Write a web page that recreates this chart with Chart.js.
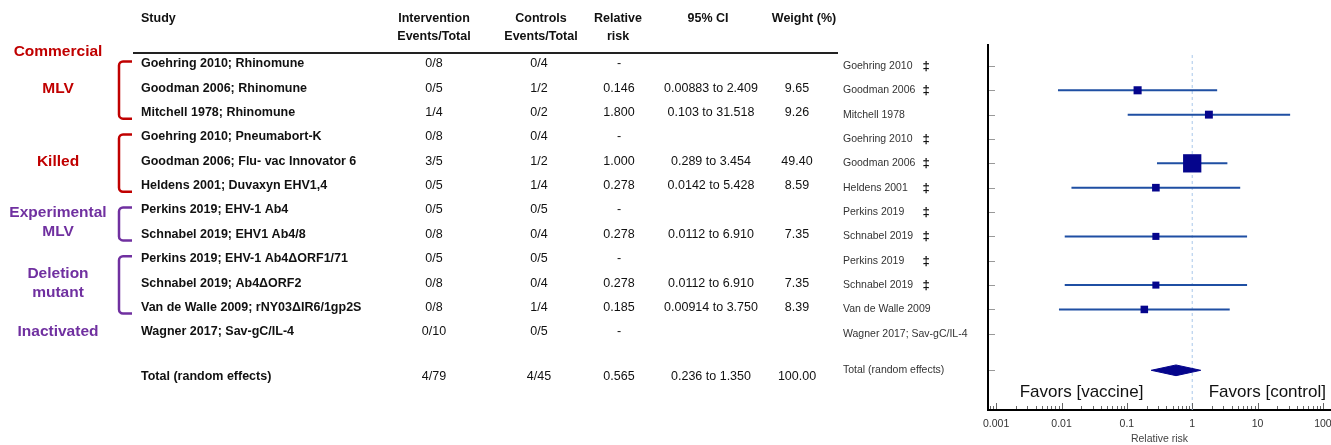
<!DOCTYPE html>
<html>
<head>
<meta charset="utf-8">
<script src="https://cdn.jsdelivr.net/npm/chart.js@4.4.1/dist/chart.umd.min.js"></script>
<style>
  html, body { margin: 0; padding: 0; background: #fff; }
  canvas { display: block; }
</style>
</head>
<body>
<canvas id="forest" width="1331" height="445"></canvas>
<script>
// ---- Study data -------------------------------------------------------
const studyNames = [
  'Goehring 2010; Rhinomune',
  'Goodman 2006; Rhinomune',
  'Mitchell 1978; Rhinomune',
  'Goehring 2010; Pneumabort-K',
  'Goodman 2006; Flu- vac Innovator 6',
  'Heldens 2001; Duvaxyn EHV1,4',
  'Perkins 2019; EHV-1 Ab4',
  'Schnabel 2019; EHV1 Ab4/8',
  'Perkins 2019; EHV-1 Ab4\u0394ORF1/71',
  'Schnabel 2019; Ab4\u0394ORF2',
  'Van de Walle 2009; rNY03\u0394IR6/1gp2S',
  'Wagner 2017; Sav-gC/IL-4'
];
const shortNames = [
  'Goehring 2010', 'Goodman 2006', 'Mitchell 1978', 'Goehring 2010',
  'Goodman 2006', 'Heldens 2001', 'Perkins 2019', 'Schnabel 2019',
  'Perkins 2019', 'Schnabel 2019', 'Van de Walle 2009', 'Wagner 2017; Sav-gC/IL-4'
];
const doubleDagger = [true, true, false, true, true, true, true, true, true, true, false, false];
const interventionEvents = ['0/8', '0/5', '1/4', '0/8', '3/5', '0/5', '0/5', '0/8', '0/5', '0/8', '0/8', '0/10'];
const controlEvents      = ['0/4', '1/2', '0/2', '0/4', '1/2', '1/4', '0/5', '0/4', '0/5', '0/4', '1/4', '0/5'];
const relativeRisk = ['-', '0.146', '1.800', '-', '1.000', '0.278', '-', '0.278', '-', '0.278', '0.185', '-'];
const ciLower      = ['', '0.00883', '0.103', '', '0.289', '0.0142', '', '0.0112', '', '0.0112', '0.00914', ''];
const ciUpper      = ['', '2.409', '31.518', '', '3.454', '5.428', '', '6.910', '', '6.910', '3.750', ''];
const weights      = ['', '9.65', '9.26', '', '49.40', '8.59', '', '7.35', '', '7.35', '8.39', ''];

const pooledLabel = 'Total (random effects)';
const pooledIntervention = '4/79';
const pooledControl = '4/45';
const pooledRR = '0.565';
const pooledLower = '0.236';
const pooledUpper = '1.350';
const pooledWeight = '100.00';

const headerTitles = [
  { lines: ['Study'], x: 141, align: 'left' },
  { lines: ['Intervention', 'Events/Total'], x: 434, align: 'center' },
  { lines: ['Controls', 'Events/Total'], x: 541, align: 'center' },
  { lines: ['Relative', 'risk'], x: 618, align: 'center' },
  { lines: ['95% CI'], x: 708, align: 'center' },
  { lines: ['Weight (%)'], x: 804, align: 'center' }
];

// Vaccine-type groups: label lines, colour, label row, bracketed rows
const groups = [
  { lines: ['Commercial'], color: '#c00000', row: -0.5, span: null },
  { lines: ['MLV'], color: '#c00000', row: 1, span: [0, 2] },
  { lines: ['Killed'], color: '#c00000', row: 4, span: [3, 5] },
  { lines: ['Experimental', 'MLV'], color: '#7030a0', row: 6.5, span: [6, 7] },
  { lines: ['Deletion', 'mutant'], color: '#7030a0', row: 9, span: [8, 10] },
  { lines: ['Inactivated'], color: '#7030a0', row: 11, span: null }
];

const xTickValues = [0.001, 0.01, 0.1, 1, 10, 100];
const xTickLabels = ['0.001', '0.01', '0.1', '1', '10', '100'];

const pooledRow = 12.5;
const FONT = "'Liberation Sans', Arial, Helvetica, sans-serif";

// ---- Datasets built from the arrays above -----------------------------
const squarePoints = [];
const squareRadii = [];
const ciPoints = [];
relativeRisk.forEach((rr, i) => {
  if (rr === '-') return;
  squarePoints.push({ x: Number(rr), y: i });
  // box area proportional to weight; 'rect' side = radius * sqrt(2)
  const side = 2.6 * Math.sqrt(Number(weights[i]));
  squareRadii.push(side / Math.SQRT2);
  ciPoints.push({ x: Number(ciLower[i]), y: i });
  ciPoints.push({ x: Number(ciUpper[i]), y: i });
  ciPoints.push({ x: Number(ciUpper[i]), y: null });
});

const diamondHalf = 0.22;
const diamondPoints = [
  { x: Number(pooledLower), y: pooledRow },
  { x: Number(pooledRR), y: pooledRow - diamondHalf },
  { x: Number(pooledUpper), y: pooledRow },
  { x: Number(pooledRR), y: pooledRow + diamondHalf },
  { x: Number(pooledLower), y: pooledRow }
];

// ---- Table, labels, brackets and log minor ticks ----------------------
const forestDecor = {
  id: 'forestDecor',
  afterDraw(chart) {
    const ctx = chart.ctx;
    const xs = chart.scales.x;
    const ys = chart.scales.y;
    const area = chart.chartArea;
    const tableY = (v) => ys.getPixelForValue(v) - 2;

    ctx.save();
    ctx.textBaseline = 'middle';

    // header
    ctx.fillStyle = '#111';
    ctx.font = 'bold 12.5px ' + FONT;
    headerTitles.forEach(h => {
      ctx.textAlign = h.align;
      h.lines.forEach((t, k) => ctx.fillText(t, h.x, 19 + k * 17.7));
    });
    ctx.strokeStyle = '#222';
    ctx.lineWidth = 2;
    ctx.beginPath();
    ctx.moveTo(133, 53);
    ctx.lineTo(838, 53);
    ctx.stroke();

    // study rows
    const drawRow = (y, name, inter, ctrl, rr, lo, hi, w) => {
      ctx.fillStyle = '#111';
      ctx.font = 'bold 12.5px ' + FONT;
      ctx.textAlign = 'left';
      ctx.fillText(name, 141, y);
      ctx.font = '12.5px ' + FONT;
      ctx.textAlign = 'center';
      ctx.fillText(inter, 434, y);
      ctx.fillText(ctrl, 539, y);
      ctx.fillText(rr, 619, y);
      if (lo) ctx.fillText(lo + ' to ' + hi, 711, y);
      if (w) ctx.fillText(w, 797, y);
    };
    studyNames.forEach((name, i) => {
      drawRow(tableY(i), name, interventionEvents[i], controlEvents[i],
        relativeRisk[i], ciLower[i], ciUpper[i], weights[i]);
    });
    drawRow(tableY(12.84), pooledLabel, pooledIntervention, pooledControl,
      pooledRR, pooledLower, pooledUpper, pooledWeight);

    // group labels and brackets
    groups.forEach(g => {
      ctx.fillStyle = g.color;
      ctx.font = 'bold 15.5px ' + FONT;
      ctx.textAlign = 'center';
      const cy = tableY(g.row);
      const n = g.lines.length;
      g.lines.forEach((t, k) => ctx.fillText(t, 58, cy + (k - (n - 1) / 2) * 18.5));
      if (g.span) {
        const top = tableY(g.span[0]) - 2.5;
        const bot = tableY(g.span[1]) + 6;
        const vx = 119, ax = 132, r = 4;
        ctx.strokeStyle = g.color;
        ctx.lineWidth = 2.5;
        ctx.beginPath();
        ctx.moveTo(ax, top);
        ctx.arcTo(vx, top, vx, bot, r);
        ctx.arcTo(vx, bot, ax, bot, r);
        ctx.lineTo(ax, bot);
        ctx.stroke();
      }
    });

    // study labels beside the plot
    ctx.fillStyle = '#333';
    ctx.textAlign = 'left';
    shortNames.forEach((t, i) => {
      const y = ys.getPixelForValue(i);
      ctx.font = '10.5px ' + FONT;
      ctx.fillText(t, 843, y);
      if (doubleDagger[i]) {
        ctx.font = 'bold 13px ' + FONT;
        ctx.textAlign = 'center';
        ctx.fillStyle = '#111';
        ctx.fillText('\u2021', 926, y + 0.5);
        ctx.fillStyle = '#333';
        ctx.textAlign = 'left';
      }
    });
    ctx.font = '10.5px ' + FONT;
    ctx.fillText(pooledLabel, 843, ys.getPixelForValue(pooledRow));

    // row ticks on the left spine
    ctx.strokeStyle = '#999';
    ctx.lineWidth = 1;
    const rowTicks = studyNames.map((_, i) => i).concat([pooledRow]);
    rowTicks.forEach(v => {
      const y = Math.round(ys.getPixelForValue(v)) + 0.5;
      ctx.beginPath();
      ctx.moveTo(area.left + 1, y);
      ctx.lineTo(area.left + 7, y);
      ctx.stroke();
    });

    // log ticks on the bottom axis, drawn inward
    ctx.strokeStyle = '#666';
    for (let k = -4; k <= 2; k++) {
      for (let d = 1; d <= 9; d++) {
        const v = d * Math.pow(10, k);
        if (v < xs.min || v > xs.max) continue;
        const px = Math.round(xs.getPixelForValue(v)) + 0.5;
        const len = d === 1 ? 6 : 3;
        ctx.beginPath();
        ctx.moveTo(px, area.bottom - 1);
        ctx.lineTo(px, area.bottom - 1 - len);
        ctx.stroke();
      }
    }

    // favour annotations
    ctx.fillStyle = '#111';
    ctx.font = '17px ' + FONT;
    ctx.textAlign = 'center';
    const fy = ys.getPixelForValue(13.41);
    ctx.fillText('Favors [vaccine]', xs.getPixelForValue(0.0203), fy);
    ctx.fillText('Favors [control]', xs.getPixelForValue(14.1), fy);

    ctx.restore();
  }
};

new Chart(document.getElementById('forest'), {
  type: 'scatter',
  data: {
    datasets: [
      {
        label: 'Relative risk',
        data: squarePoints,
        pointStyle: 'rect',
        pointRadius: squareRadii,
        pointHoverRadius: 0,
        pointBackgroundColor: '#05058c',
        pointBorderWidth: 0,
        showLine: false
      },
      {
        label: 'Pooled estimate',
        data: diamondPoints,
        showLine: true,
        fill: 'shape',
        backgroundColor: '#05058c',
        borderColor: '#05058c',
        borderWidth: 1,
        pointRadius: 0,
        pointHoverRadius: 0,
        tension: 0
      },
      {
        label: '95% CI',
        data: ciPoints,
        showLine: true,
        spanGaps: false,
        borderColor: '#1f4fa3',
        borderWidth: 2,
        pointRadius: 0,
        pointHoverRadius: 0
      },
      {
        label: 'No effect',
        data: [{ x: 1, y: -0.45 }, { x: 1, y: 14.2 }],
        showLine: true,
        borderColor: '#a9c8ea',
        borderWidth: 1,
        borderDash: [3, 3],
        pointRadius: 0,
        pointHoverRadius: 0
      }
    ]
  },
  options: {
    responsive: false,
    animation: false,
    layout: { autoPadding: false, padding: { left: 988, top: 45, right: 0, bottom: 0 } },
    plugins: { legend: { display: false }, tooltip: { enabled: false } },
    scales: {
      x: {
        type: 'logarithmic',
        min: 0.00075,
        max: 133,
        afterBuildTicks: (s) => { s.ticks = xTickValues.map(v => ({ value: v })); },
        afterFit: (s) => { s.height = 35; s.paddingLeft = 0; s.paddingRight = 0; },
        grid: { display: false, drawTicks: false },
        border: { display: true, color: '#000', width: 2 },
        ticks: {
          autoSkip: false,
          maxRotation: 0,
          padding: 8,
          color: '#333',
          font: { size: 10.5, family: FONT },
          callback: (v, i) => xTickLabels[i]
        },
        title: {
          display: true,
          text: 'Relative risk',
          color: '#444',
          font: { size: 10.5, family: FONT },
          padding: { top: 0, bottom: 0 }
        }
      },
      y: {
        type: 'linear',
        reverse: true,
        min: -0.86,
        max: 14.13,
        afterFit: (s) => { s.width = 0; s.paddingTop = 0; s.paddingBottom = 0; },
        grid: { display: false, drawTicks: false },
        border: { display: true, color: '#000', width: 2 },
        ticks: { display: false }
      }
    }
  },
  plugins: [forestDecor]
});
</script>
</body>
</html>
